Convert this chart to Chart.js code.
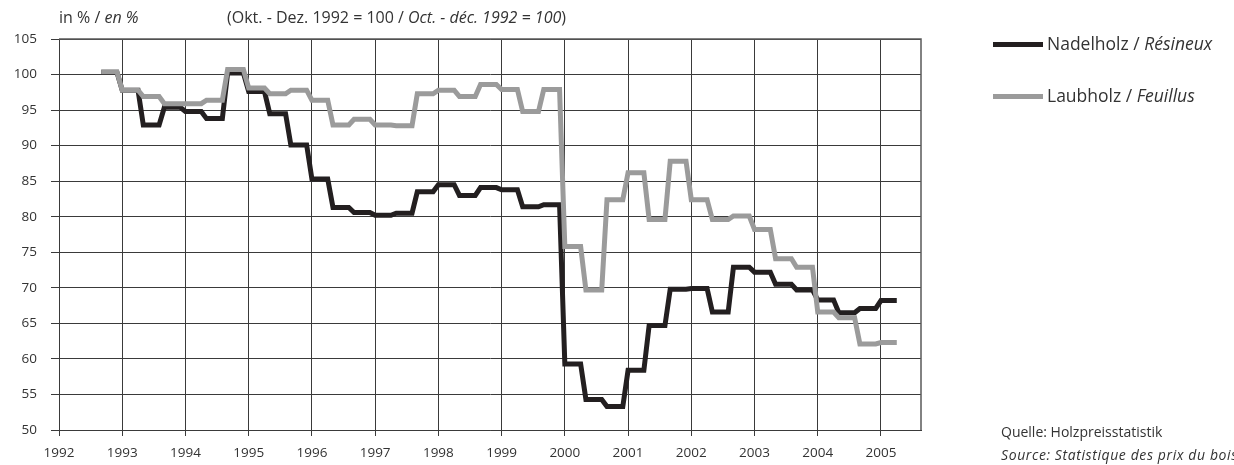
<!DOCTYPE html>
<html lang="de">
<head>
<meta charset="utf-8">
<title>Holzpreisindex Nadelholz / Laubholz</title>
<script src="https://cdn.jsdelivr.net/npm/chart.js@4.4.1/dist/chart.umd.min.js"></script>
<style>
  html, body { margin: 0; padding: 0; background: #fff; }
  body { width: 1234px; height: 465px; overflow: hidden; position: relative;
         font-family: "Open Sans", "Noto Sans", sans-serif; color: #333; }
  #wrap { position: absolute; left: 0; top: 0; width: 1234px; height: 465px; }
  .txt { position: absolute; white-space: nowrap; line-height: 1; }
  .hdr { font-size: 16px; top: 9px; }
  .lg-line { position: absolute; height: 5px; width: 50px; }
  .lg-txt { font-size: 17.5px; }
  .src { font-size: 14px; }
  i { font-style: italic; }
</style>
</head>
<body>
<div id="wrap"><canvas id="c" width="1234" height="465"></canvas></div>

<div class="txt hdr" style="left:59px;">in % / <i>en %</i></div>
<div class="txt hdr" style="left:227px;">(Okt. - Dez. 1992 = 100 / <i>Oct. - déc. 1992 = 100</i>)</div>

<div class="lg-line" style="left:993px; top:42px; background:#231f20;"></div>
<div class="txt lg-txt" style="left:1047px; top:35px;">Nadelholz / <i>Résineux</i></div>
<div class="lg-line" style="left:993px; top:94px; background:#9b9b9b;"></div>
<div class="txt lg-txt" style="left:1047px; top:87px;">Laubholz / <i>Feuillus</i></div>

<div class="txt src" style="left:1001px; top:425px;">Quelle: Holzpreisstatistik</div>
<div class="txt src" style="left:1001px; top:448px; letter-spacing:0.6px;"><i>Source: Statistique des prix du bois</i></div>

<script>
// Four-month price periods, given by their first month
const periodStart = [
  '1992-09',
  '1993-01', '1993-05', '1993-09',
  '1994-01', '1994-05', '1994-09',
  '1995-01', '1995-05', '1995-09',
  '1996-01', '1996-05', '1996-09',
  '1997-01', '1997-05', '1997-09',
  '1998-01', '1998-05', '1998-09',
  '1999-01', '1999-05', '1999-09',
  '2000-01', '2000-05', '2000-09',
  '2001-01', '2001-05', '2001-09',
  '2002-01', '2002-05', '2002-09',
  '2003-01', '2003-05', '2003-09',
  '2004-01', '2004-05', '2004-09',
  '2005-01'
];

// Index values (Okt.-Dez. 1992 = 100), one per period
const nadelholz = [
  100.3,
  97.8, 92.9, 95.4,
  94.8, 93.8, 100.2,
  97.6, 94.5, 90.1,
  85.3, 81.3, 80.6,
  80.2, 80.5, 83.5,
  84.5, 83.0, 84.1,
  83.8, 81.4, 81.7,
  59.3, 54.3, 53.3,
  58.4, 64.7, 69.8,
  69.9, 66.6, 72.9,
  72.2, 70.5, 69.7,
  68.3, 66.5, 67.1,
  68.2
];

const laubholz = [
  100.4,
  97.8, 96.9, 95.9,
  95.9, 96.4, 100.7,
  98.1, 97.3, 97.8,
  96.4, 92.9, 93.7,
  92.9, 92.8, 97.3,
  97.8, 96.9, 98.6,
  97.9, 94.8, 97.9,
  75.8, 69.7, 82.4,
  86.2, 79.6, 87.8,
  82.4, 79.6, 80.1,
  78.2, 74.1, 72.9,
  66.6, 65.8, 62.1,
  62.3
];

const yearTicks = [1992, 1993, 1994, 1995, 1996, 1997, 1998, 1999, 2000, 2001, 2002, 2003, 2004, 2005];
const valueTicks = [50, 55, 60, 65, 70, 75, 80, 85, 90, 95, 100, 105];

const PERIOD_MONTHS = 4;

// Monthly time axis: a period's value holds from its first to its last month
function monthToYear(ym, add) {
  const [y, m] = ym.split('-').map(Number);
  return y + (m - 1 + add) / 12;
}
function toPoints(values) {
  const pts = [];
  values.forEach((v, i) => {
    pts.push({ x: monthToYear(periodStart[i], 0), y: v });
    pts.push({ x: monthToYear(periodStart[i], PERIOD_MONTHS - 1), y: v });
  });
  return pts;
}

const GRID = '#3a3a3a';
const tickFont = { family: '"Open Sans", "Noto Sans", sans-serif', size: 13.5 };

// Frame on the top and right sides of the plot area
const frame = {
  id: 'frame',
  afterDatasetsDraw(chart) {
    const { ctx, chartArea: a } = chart;
    ctx.save();
    ctx.strokeStyle = '#5a5a5a';
    ctx.lineWidth = 1.5;
    ctx.beginPath();
    ctx.moveTo(a.left, a.top);
    ctx.lineTo(a.right, a.top);
    ctx.lineTo(a.right, a.bottom);
    ctx.stroke();
    ctx.restore();
  }
};

new Chart(document.getElementById('c'), {
  type: 'line',
  data: {
    datasets: [
      { label: 'Laubholz / Feuillus', data: toPoints(laubholz), borderColor: '#9b9b9b',
        borderWidth: 5, pointRadius: 0, tension: 0, order: 0 },
      { label: 'Nadelholz / Résineux', data: toPoints(nadelholz), borderColor: '#231f20',
        borderWidth: 5, pointRadius: 0, tension: 0, order: 1 }
    ]
  },
  options: {
    responsive: false,
    animation: false,
    events: [],
    layout: { padding: { top: 39, right: 313, left: 0, bottom: 0 } },
    plugins: { legend: { display: false }, tooltip: { enabled: false } },
    scales: {
      x: {
        type: 'linear',
        min: 1992,
        max: 2005.633,
        afterBuildTicks: s => { s.ticks = yearTicks.map(v => ({ value: v })); },
        afterFit: s => { s.height = 35; },
        grid: { color: GRID, lineWidth: 1, tickLength: 6, tickColor: GRID },
        border: { display: true, color: GRID, width: 1 },
        ticks: { font: tickFont, color: '#333', padding: 9, maxRotation: 0,
                 callback: v => String(v) }
      },
      y: {
        min: 50,
        max: 105,
        afterBuildTicks: s => { s.ticks = valueTicks.map(v => ({ value: v })); },
        afterFit: s => { s.width = 59; },
        grid: { color: GRID, lineWidth: 1, tickLength: 8, tickColor: GRID },
        border: { display: true, color: GRID, width: 1 },
        ticks: { font: tickFont, color: '#333', padding: 14, callback: v => String(v) }
      }
    }
  },
  plugins: [frame]
});
</script>
</body>
</html>
